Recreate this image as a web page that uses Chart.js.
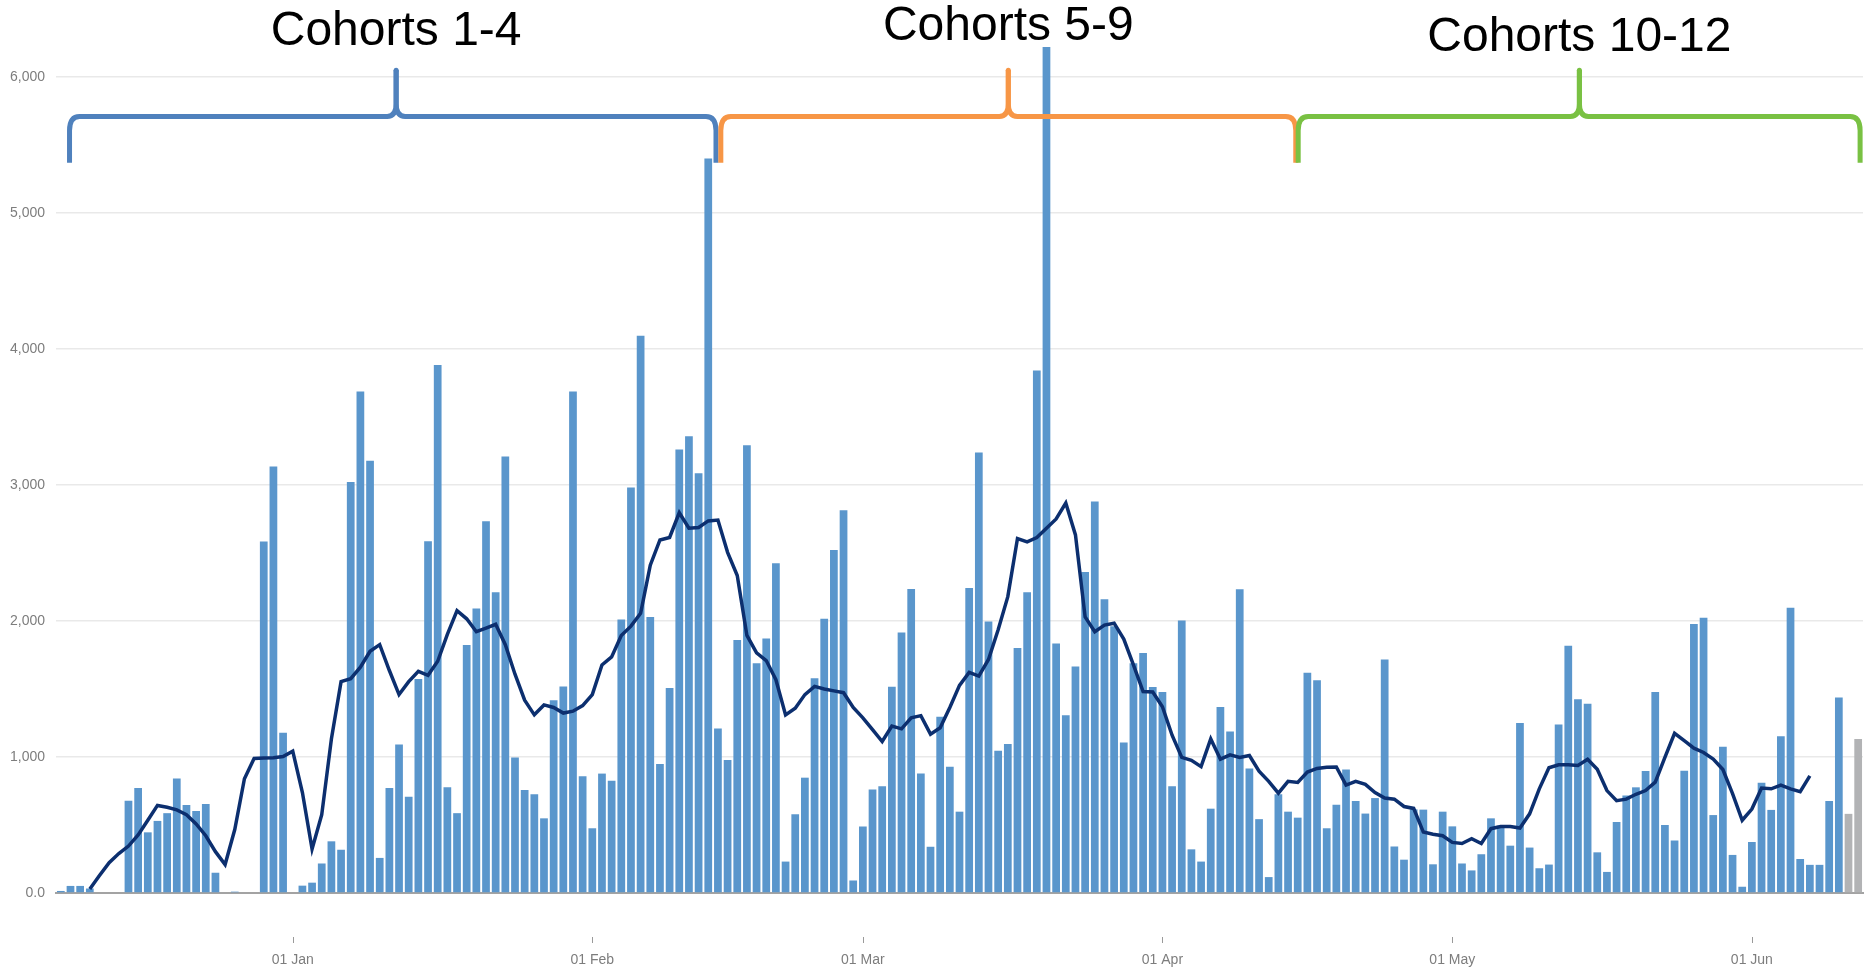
<!DOCTYPE html>
<html><head><meta charset="utf-8">
<script src="https://cdn.jsdelivr.net/npm/chart.js@4.4.1/dist/chart.umd.min.js"></script>
<style>html,body{margin:0;padding:0;background:#fff;}#wrap{width:1864px;height:968px;position:relative;}</style>
</head><body><div id="wrap"><canvas id="c" width="1864" height="968"></canvas></div>
<script>
// ---------- data ----------
const startDate = '2020-12-08';
const counts = [
15,52,52,33,0,0,0,679,772,446,
530,587,842,647,603,655,149,0,10,0,
0,2584,3136,1179,0,54,76,217,380,318,
3022,3688,3179,258,772,1092,707,1573,2587,3883,
777,587,1823,2092,2734,2212,3209,997,758,726,
549,1418,1519,3688,859,476,878,826,2011,2981,
4098,2030,948,1508,3261,3359,3087,5400,1209,978,
1861,3293,1690,1872,2424,231,579,848,1579,2016,
2522,2815,92,489,761,785,1516,1916,2236,878,
340,1296,929,598,2242,3239,1997,1046,1095,1802,
2212,3842,6220,1834,1307,1666,2361,2878,2160,1961,
1106,1690,1764,1514,1478,785,2003,321,231,620,
1367,1188,2234,916,543,117,726,598,554,1620,
1565,476,649,908,677,584,698,1717,342,245,
615,613,211,598,490,217,166,285,549,495,
348,1250,334,182,209,1239,1818,1424,1391,299,
155,522,717,777,897,1478,500,386,899,1978,
2024,573,1076,280,46,375,810,611,1152,2098,
250,207,207,677,1438,582,1133
];
const movingAvg = [null,null,null,
30,128,223,290,345,427,535,644,630,611,576,508,421,304,209,467,840,989,992,995,1003,1043,739,323,576,1133,1554,1576,1660,
1777,1826,1636,1459,1554,1630,1601,1704,1902,2076,2016,1921,1948,1976,1826,1609,1418,1310,1383,1364,1323,1337,1378,1459,1677,1736,1894,1962,2057,2410,2596,
2614,2796,2682,2688,2736,2742,2505,2334,1894,1766,1709,1568,1310,1359,1459,1519,1500,1486,1473,1364,1288,1201,1114,1228,1207,1288,1304,1168,1215,1364,1527,
1622,1595,1717,1935,2179,2606,2582,2614,2682,2750,2867,2633,2030,1921,1970,1984,1867,1677,1481,1478,1370,1160,997,976,929,1133,984,1016,997,1011,895,
821,734,821,813,889,916,924,927,793,821,799,739,698,690,636,622,448,432,421,372,364,399,364,473,489,489,478,582,766,921,943,
943,938,984,910,753,679,690,726,753,815,997,1174,1120,1065,1033,984,908,731,535,617,772,766,793,766,745,861,
null,null,null,null,null];
const provisionalDays = 2;
const yTickValues = [0,1000,2000,3000,4000,5000,6000];
const monthLabels = ['Jan','Feb','Mar','Apr','May','Jun','Jul','Aug','Sep','Oct','Nov','Dec'];
const cohortLabels = ['Cohorts 1-4','Cohorts 5-9','Cohorts 10-12'];
const cohortStart = [0.9, 68.3, 128.05];
const cohortEnd = [67.8, 127.8, 186.2];
const cohortTip = [34.7, 98.05, 157.15];

// ---------- annotation layout (value units) ----------
const braceTipValue = 6050, braceBarValue = 5710, braceEndValue = 5370;
const cohortTextValue = [6330, 6366, 6288];
const cohortColors = ['#4f81bd','#f79646','#79c143'];

const categories = [];
{ const d = new Date(startDate + 'T00:00:00Z');
  for (let i = 0; i < counts.length; i++) { categories.push(d.toISOString().slice(0,10)); d.setUTCDate(d.getUTCDate()+1); } }
const barColors = counts.map((v,i) => i >= counts.length - provisionalDays ? '#b2b3b5' : '#5a96cc');
const isMonthStart = s => s.slice(8) === '01';

const overlay = {
  id: 'overlay',
  afterDraw(chart) {
    const ctx = chart.ctx, xs = chart.scales.x, ys = chart.scales.y;
    ctx.save();
    ctx.strokeStyle = '#9a9a9a'; ctx.lineWidth = 1;
    categories.forEach((c,i) => {
      if (isMonthStart(c)) {
        const px = Math.round(xs.getPixelForValue(i)) + 0.5;
        ctx.beginPath(); ctx.moveTo(px, ys.bottom + 44); ctx.lineTo(px, ys.bottom + 50); ctx.stroke();
      }
    });
    ctx.lineWidth = 5; ctx.lineJoin = 'round'; ctx.lineCap = 'butt';
    cohortLabels.forEach((lab,k) => {
      const x1 = xs.getPixelForValue(cohortStart[k]), x2 = xs.getPixelForValue(cohortEnd[k]), xm = xs.getPixelForValue(cohortTip[k]);
      const yT = ys.getPixelForValue(braceTipValue), yH = ys.getPixelForValue(braceBarValue), yE = ys.getPixelForValue(braceEndValue);
      ctx.strokeStyle = cohortColors[k];
      ctx.beginPath();
      ctx.moveTo(x1, yE); ctx.lineTo(x1, yH + 14); ctx.quadraticCurveTo(x1, yH, x1 + 10, yH);
      ctx.lineTo(xm - 9, yH); ctx.quadraticCurveTo(xm, yH, xm, yH - 13); ctx.lineTo(xm, yT);
      ctx.stroke();
      ctx.beginPath();
      ctx.moveTo(xm, yT); ctx.lineTo(xm, yH - 13); ctx.quadraticCurveTo(xm, yH, xm + 9, yH);
      ctx.lineTo(x2 - 10, yH); ctx.quadraticCurveTo(x2, yH, x2, yH + 14); ctx.lineTo(x2, yE);
      ctx.stroke();
      ctx.beginPath(); ctx.fillStyle = cohortColors[k]; ctx.arc(xm, yT, 2.5, 0, Math.PI*2); ctx.fill();
      ctx.fillStyle = '#000';
      ctx.font = '48px "Liberation Sans", Arial, sans-serif';
      ctx.textAlign = 'center'; ctx.textBaseline = 'middle';
      ctx.fillText(lab, xm, ys.getPixelForValue(cohortTextValue[k]));
    });
    ctx.restore();
  }
};

new Chart(document.getElementById('c'), {
  type: 'bar',
  data: {
    labels: categories,
    datasets: [
      { type: 'line', data: movingAvg, borderColor: '#0c2f6f', borderWidth: 3.5, pointRadius: 0, tension: 0, fill: false, order: 0, spanGaps: false },
      { type: 'bar', data: counts, backgroundColor: barColors, barPercentage: 0.8, categoryPercentage: 1.0, order: 1 }
    ]
  },
  options: {
    responsive: false, animation: false, devicePixelRatio: 1,
    layout: { padding: { top: 9, right: 1, left: 0, bottom: 0 } },
    plugins: { legend: { display: false }, tooltip: { enabled: false } },
    scales: {
      x: {
        grid: { display: false, drawTicks: false },
        border: { display: true, color: '#a3a3a3', width: 2 },
        ticks: {
          autoSkip: false, maxRotation: 0, minRotation: 0, padding: 59,
          color: '#7d7d7d', font: { family: '"Liberation Sans", Arial, sans-serif', size: 14 },
          callback: (v, i) => { const s = categories[i]; return isMonthStart(s) ? '01 ' + monthLabels[+s.slice(5,7)-1] : ''; }
        },
        afterFit: s => { s.height = 75; s.paddingLeft = 0; s.paddingRight = 0; }
      },
      y: {
        min: 0, max: 6500,
        afterBuildTicks: s => { s.ticks = yTickValues.map(v => ({ value: v })); },
        grid: { color: '#e9e9e9', lineWidth: 1.5, drawTicks: false },
        border: { display: false },
        ticks: {
          padding: 11, color: '#7d7d7d', font: { family: '"Liberation Sans", Arial, sans-serif', size: 14 },
          callback: v => v === 0 ? '0.0' : v.toLocaleString('en-US')
        },
        afterFit: s => { s.width = 56; s.paddingTop = 0; s.paddingBottom = 0; }
      }
    }
  },
  plugins: [overlay]
});
</script></body></html>
